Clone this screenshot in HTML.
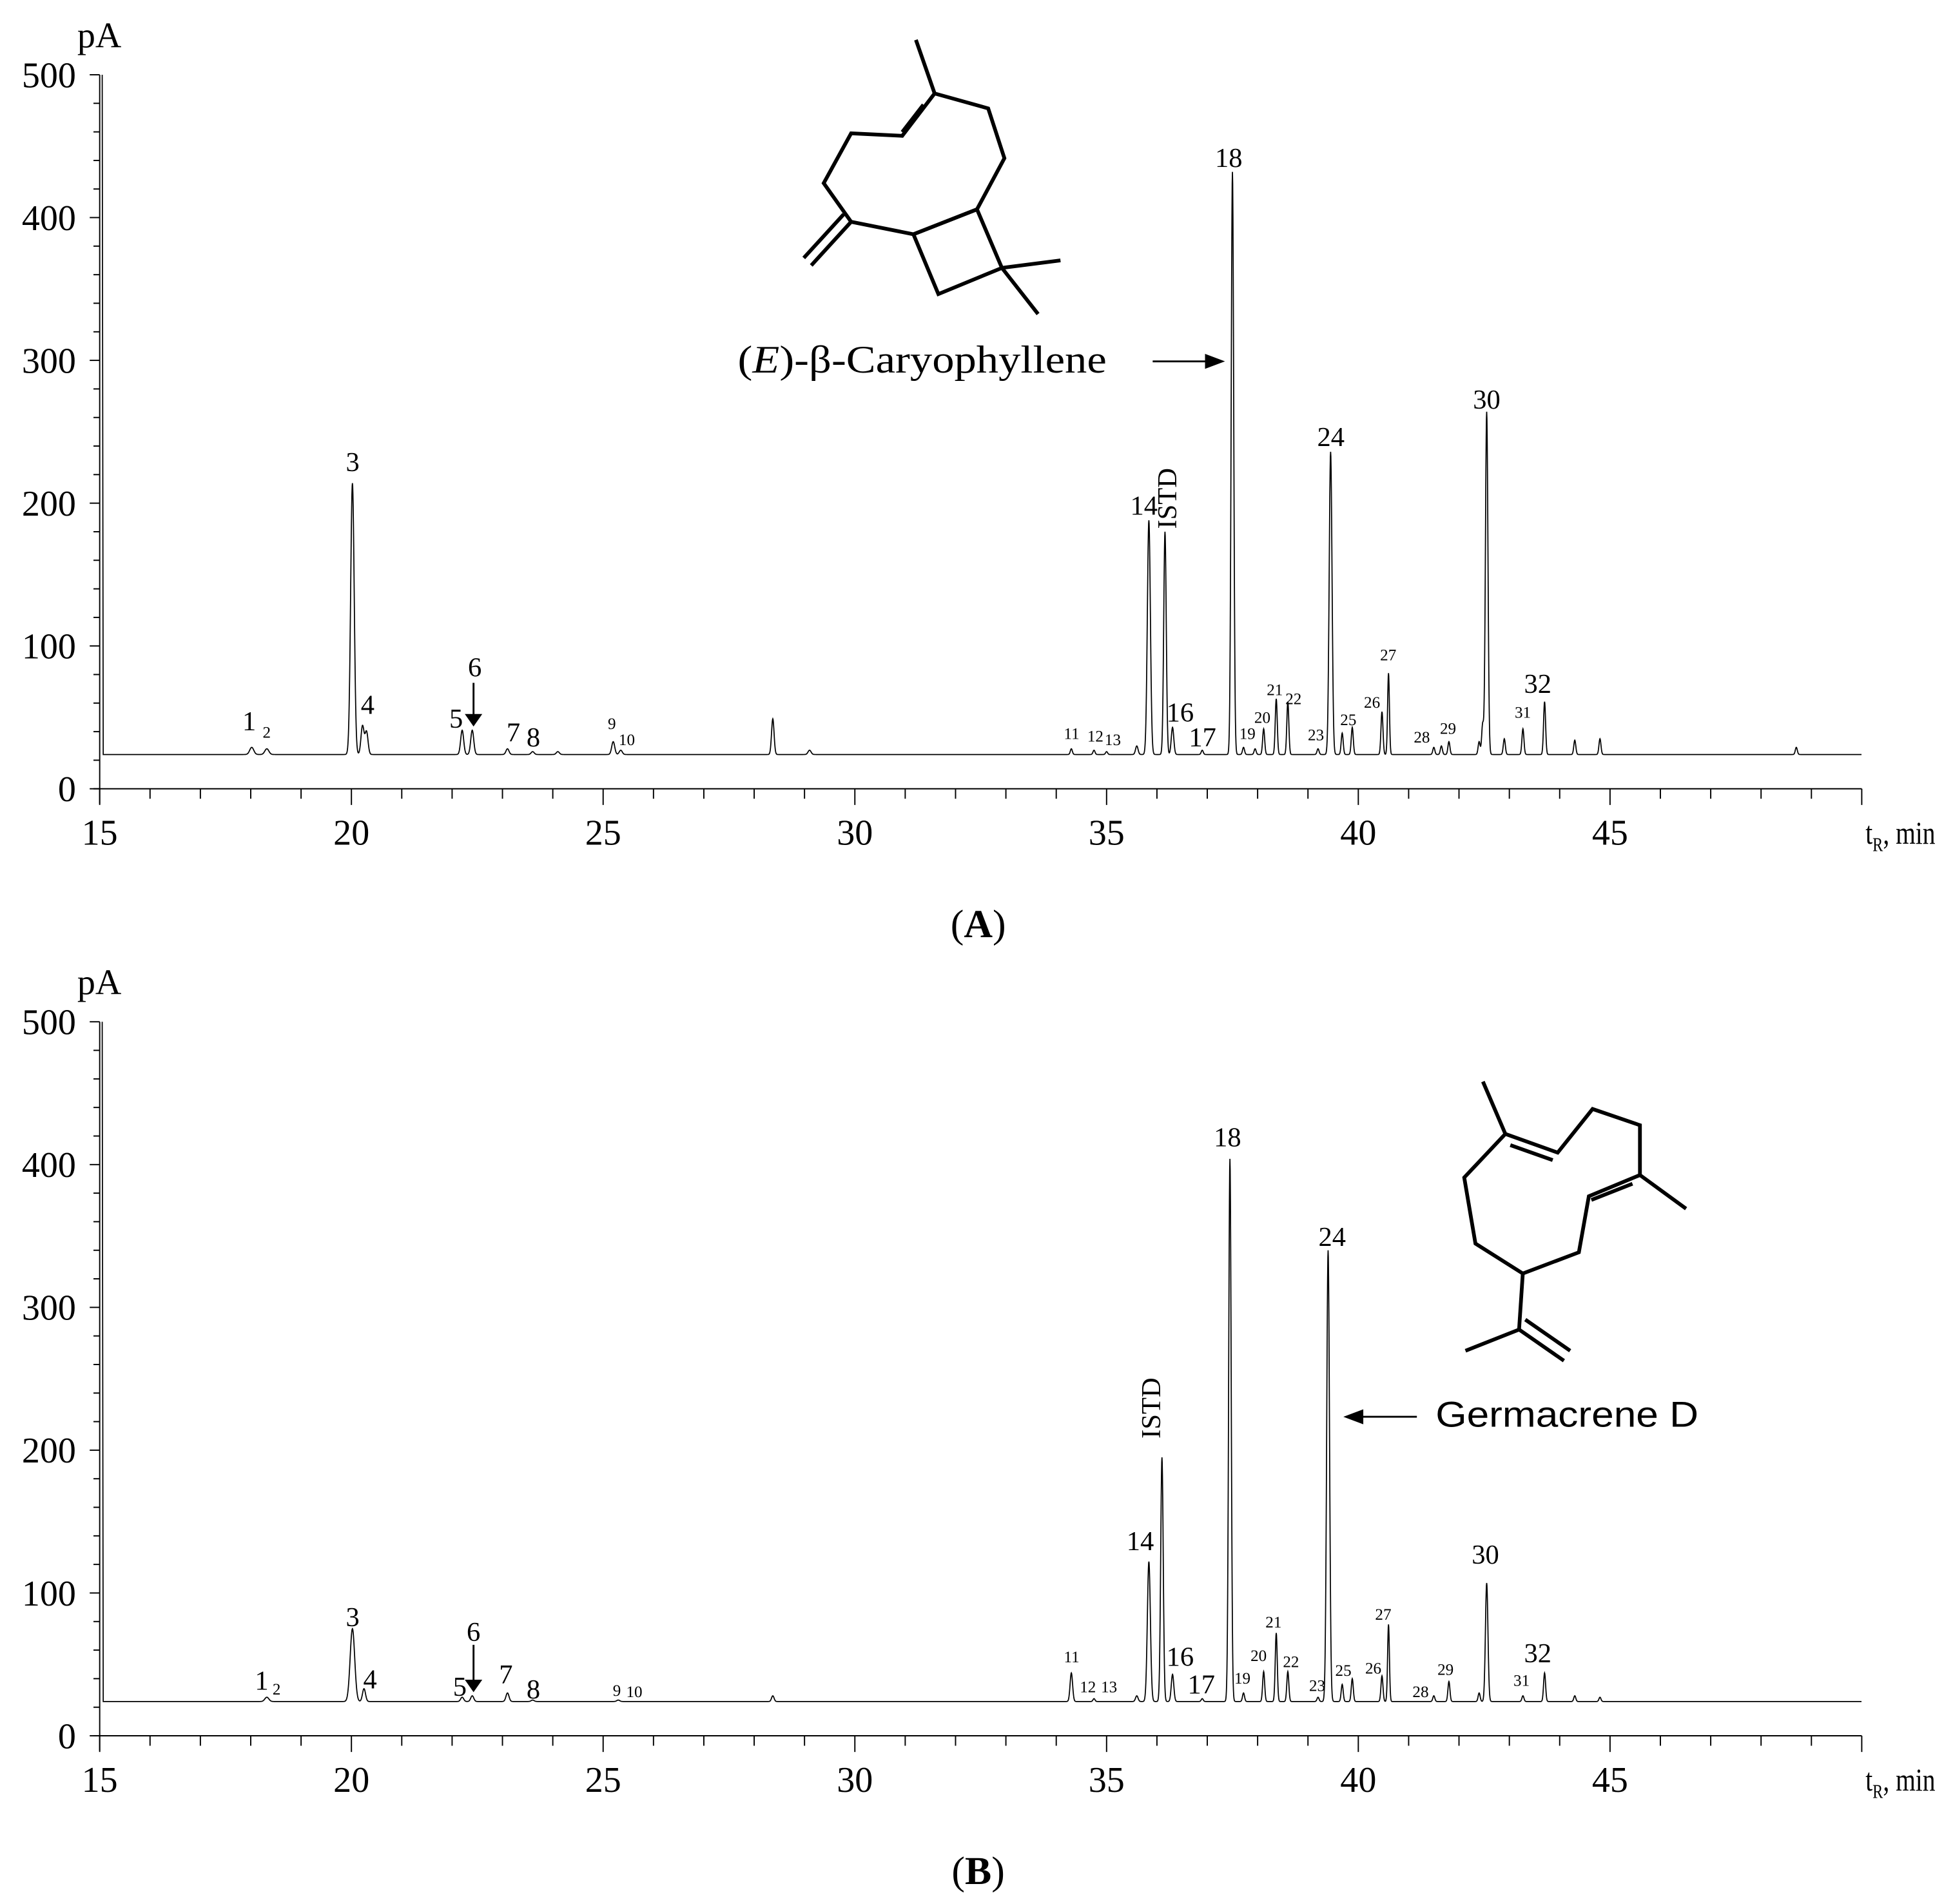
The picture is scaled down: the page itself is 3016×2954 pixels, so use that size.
<!DOCTYPE html>
<html><head><meta charset="utf-8"><style>
html,body{margin:0;padding:0;background:#fff}
svg{display:block}
text{font-family:"Liberation Serif",serif;fill:#000}
</style></head><body>
<svg id="fig" width="3016" height="2954" viewBox="0 0 1560 1528" preserveAspectRatio="none" xmlns="http://www.w3.org/2000/svg">
<g id="panelA"></g>
<g id="panelB"></g>

<g fill="none" stroke="#000" stroke-width="3" stroke-linejoin="miter">
<polyline points="735,32 750,75"/>
<polygon points="750,75 793,87 806,127 784,168 733,188 683,178 661,147 683,107 724,109"/>
<line x1="741" y1="84" x2="724" y2="106"/>
<polygon points="733,188 784,168 804,215 753,236"/>
<line x1="804" y1="215" x2="851" y2="209"/>
<line x1="804" y1="215" x2="833" y2="252"/>
<line x1="683" y1="178" x2="651" y2="213"/>
<line x1="677" y1="172" x2="645" y2="207"/>
</g>
<g fill="none" stroke="#000" stroke-width="3">
<line x1="1190" y1="868" x2="1208" y2="910"/>
<polygon points="1208,910 1250,925 1278,890 1316,903 1316,943 1275,960 1267,1005 1222,1022 1184,998 1175,945"/>
<line x1="1212" y1="919" x2="1246" y2="931"/>
<line x1="1310" y1="950" x2="1277" y2="963"/>
<line x1="1316" y1="943" x2="1353" y2="970"/>
<line x1="1222" y1="1022" x2="1219" y2="1067"/>
<line x1="1219" y1="1067" x2="1176" y2="1084"/>
<line x1="1219" y1="1067" x2="1255" y2="1092"/>
<line x1="1224" y1="1059" x2="1260" y2="1084"/>
</g>

<text x="592" y="299" font-size="31" textLength="296" lengthAdjust="spacingAndGlyphs">(<tspan font-style="italic">E</tspan>)-β-Caryophyllene</text>
<g><line x1="925" y1="290" x2="970" y2="290" stroke="#000" stroke-width="1.5"/><polygon points="983,290 967,284 967,296" fill="#000"/></g>
<text x="1152" y="1145" font-size="29" textLength="211" lengthAdjust="spacingAndGlyphs" style="font-family:'Liberation Sans',sans-serif">Germacrene D</text>
<g><line x1="1137" y1="1137" x2="1092" y2="1137" stroke="#000" stroke-width="1.5"/><polygon points="1078,1137 1094,1131 1094,1143" fill="#000"/></g>

<text x="785" y="752" font-size="32" text-anchor="middle">(<tspan font-weight="bold">A</tspan>)</text>
<text x="785" y="1512" font-size="32" text-anchor="middle">(<tspan font-weight="bold">B</tspan>)</text>
</svg>
<script>
// Panel A data
const peakTimesA = [18.02,18.32,20.02,20.22,20.3,22.2,22.4,23.1,23.6,24.1,25.2,25.35,28.37,29.1,34.3,34.75,35.0,35.6,35.84,36.16,36.31,36.9,37.5,37.72,37.95,38.12,38.37,38.6,39.2,39.45,39.68,39.88,40.47,40.6,41.5,41.65,41.8,42.4,42.47,42.55,42.9,43.27,43.7,44.3,44.8,48.7];
const peakHeightsA = [29,28,214,44,40,41,41,28,26,26,33,27,49,27,28,27,26,30,188,180,43,27,432,29,28,42,63,61,28,236,39,43,54,81,29,30,33,33,45,264,35,42,61,34,35,29];
const peakWidthsA = [0.04,0.04,0.035,0.03,0.03,0.03,0.03,0.03,0.03,0.03,0.03,0.03,0.025,0.03,0.02,0.02,0.02,0.025,0.03,0.025,0.025,0.02,0.025,0.02,0.02,0.02,0.02,0.02,0.02,0.028,0.02,0.02,0.02,0.018,0.02,0.02,0.02,0.02,0.02,0.025,0.02,0.02,0.02,0.02,0.02,0.02];
// Panel B data
const peakTimesB = [18.32,20.02,20.25,22.2,22.4,23.1,23.6,25.3,28.37,34.3,34.75,35.6,35.84,36.1,36.31,36.9,37.45,37.72,38.12,38.37,38.6,39.2,39.4,39.68,39.88,40.47,40.6,41.5,41.8,42.4,42.55,43.27,43.7,44.3,44.8];
const peakHeightsB = [27,75,33,27,28,30,25,25,28,44,26,28,122,195,43,26,404,30,45,72,45,27,340,36,40,42,78,28,38,30,107,28,44,28,27];
const peakWidthsB = [0.04,0.045,0.03,0.03,0.03,0.03,0.03,0.03,0.025,0.025,0.02,0.025,0.03,0.025,0.025,0.02,0.025,0.02,0.02,0.02,0.02,0.02,0.028,0.02,0.02,0.02,0.018,0.02,0.02,0.02,0.025,0.02,0.02,0.02,0.02];
const baseline = 24;
const xTicks = [15,20,25,30,35,40,45];
const yTicks = [0,100,200,300,400,500];
const largeLabels = ["1","3","4","5","6","7","8","14","16","17","18","24","30","32"];
const labelsA = [["1",200,578],["2",214,587],["3",283,370],["4",295,565],["5",366,576],["6",381,535],["7",412,587],["8",428,591],["9",491,580],["10",503,593],["11",860,588],["12",879,590],["13",893,593],["14",918,405],["16",947,571],["17",965,591],["18",986,126],["19",1001,588],["20",1013,575],["21",1023,553],["22",1038,560],["23",1056,589],["24",1068,350],["25",1082,577],["26",1101,563],["27",1114,525],["28",1141,591],["29",1162,584],["30",1193,320],["31",1222,571],["32",1234,548]];
const labelsB = [["1",210,1348],["2",222,1355],["3",283,1297],["4",297,1347],["5",369,1353],["6",380,1309],["7",406,1343],["8",428,1355],["9",495,1356],["10",509,1357],["11",860,1329],["12",873,1353],["13",890,1353],["14",915,1236],["16",947,1329],["17",964,1351],["18",985,912],["19",997,1346],["20",1010,1328],["21",1022,1301],["22",1036,1333],["23",1057,1352],["24",1069,992],["25",1078,1340],["26",1102,1338],["27",1110,1295],["28",1140,1357],["29",1160,1339],["30",1192,1247],["31",1221,1348],["32",1234,1326]];

const NS="http://www.w3.org/2000/svg";
function mk(tag,attrs,parent){const e=document.createElementNS(NS,tag);for(const k in attrs)e.setAttribute(k,attrs[k]);parent.appendChild(e);return e;}

function drawPanel(g,y0,times,heights,widths,labels,istd,arrow6){
  const X=t=>80+(t-15)*40.4;
  const Y=v=>y0-v*(573/500);
  let ax=mk('line',{x1:75,y1:y0,x2:X(50),y2:y0,stroke:'#000','stroke-width':1},g);
  
  
  let ay=mk('line',{x1:80,y1:Y(500),x2:80,y2:y0+12,stroke:'#000','stroke-width':1},g);
  
  
  for(let t=15;t<=50;t++){
    const major=(t%5===0);
    const tk=mk('line',{x1:X(t),y1:y0,x2:X(t),y2:y0+(major?13:8),stroke:'#000','stroke-width':1},g);
    
    
  }
  xTicks.forEach(t=>{
    const tl=mk('text',{x:X(t),y:y0+45,'font-size':29,'text-anchor':'middle'},g);tl.textContent=t;
    
    
  });
  for(let v=0;v<=500;v+=20){
    const major=(v%100===0);
    const tk=mk('line',{x1:80,y1:Y(v),x2:major?72:75,y2:Y(v),stroke:'#000','stroke-width':1},g);
    
    
  }
  yTicks.forEach(v=>{
    const tl=mk('text',{x:61,y:Y(v)+10,'font-size':29,'text-anchor':'end'},g);tl.textContent=v;
    
    
  });
  const pa=mk('text',{x:62,y:y0-595,'font-size':29},g);pa.textContent='pA';
  
  
  const xt=mk('text',{x:1497,y:y0+44,'font-size':26,textLength:56,lengthAdjust:'spacingAndGlyphs'},g);
  xt.innerHTML='t<tspan font-size="16" dy="6">R</tspan><tspan dy="-6">, min</tspan>';
  
  
  let d='M'+X(15.05).toFixed(2)+','+Y(500).toFixed(2)+' L'+X(15.07).toFixed(2)+','+Y(baseline).toFixed(2);
  for(let t=15.08;t<=50;t+=0.005){
    let v=baseline;
    for(let i=0;i<times.length;i++){const z=(t-times[i])/widths[i];if(Math.abs(z)<6)v+=(heights[i]-baseline)*Math.exp(-z*z/2);}
    d+=' L'+X(t).toFixed(2)+','+Y(v).toFixed(2);
  }
  const tr=mk('path',{d:d,fill:'none',stroke:'#000','stroke-width':0.9},g);
  
  
  labels.forEach(l=>{
    const big=largeLabels.includes(l[0]);
    const tl=mk('text',{x:l[1],y:l[2]+(big?8:5),'font-size':big?22:13,'text-anchor':'middle'},g);tl.textContent=l[0];
    
    
  });
  const is=mk('text',{x:istd[0],y:istd[1],'font-size':22,'text-anchor':'middle',transform:'rotate(-90 '+istd[0]+' '+istd[1]+')'},g);is.textContent='ISTD';
  
  
  const ar=mk('g',{},g);
  
  
  mk('line',{x1:380,y1:arrow6[0],x2:380,y2:arrow6[1]-8,stroke:'#000','stroke-width':1.5},ar);
  mk('polygon',{points:(373)+','+(arrow6[1]-10)+' 387,'+(arrow6[1]-10)+' 380,'+arrow6[1],fill:'#000'},ar);
}
drawPanel(document.getElementById('panelA'),633,peakTimesA,peakHeightsA,peakWidthsA,labelsA,[944,400],[548,583]);
drawPanel(document.getElementById('panelB'),1393,peakTimesB,peakHeightsB,peakWidthsB,labelsB,[931,1130],[1320,1358]);
</script>
</body></html>
